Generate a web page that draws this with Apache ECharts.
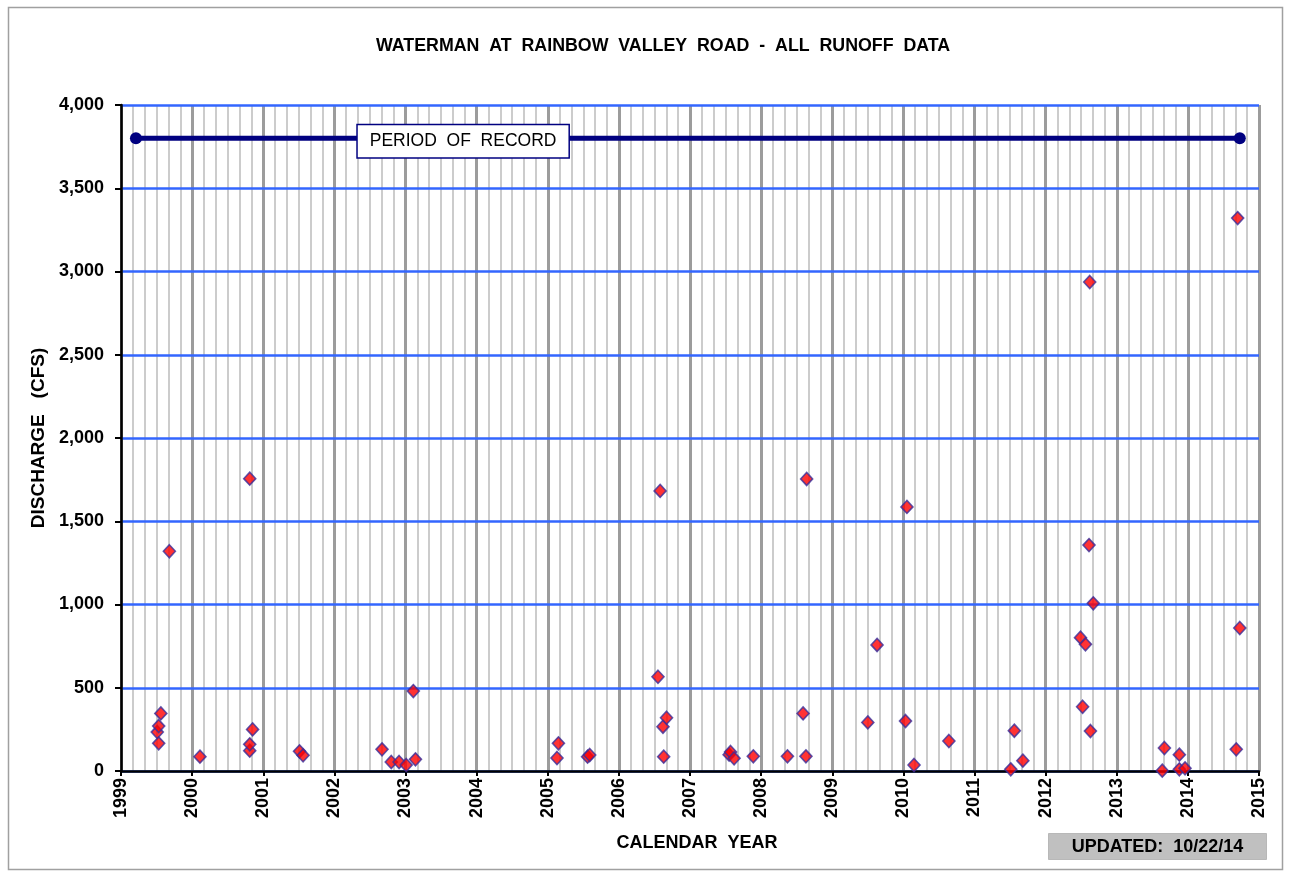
<!DOCTYPE html>
<html>
<head>
<meta charset="utf-8">
<script src="https://cdn.jsdelivr.net/npm/echarts@6/dist/echarts.min.js"></script>
<style>
html,body{margin:0;padding:0;background:#fff;}
#chart{width:1291px;height:877px;}
</style>
</head>
<body>
<div id="chart"></div>
<script>
// Decimal calendar year of each runoff event
var eventYears = [
  1999.51, 1999.53, 1999.53, 1999.56, 1999.68,
  2000.11, 2000.81, 2000.81, 2000.81, 2000.85,
  2001.51, 2001.56,
  2002.67, 2002.80, 2002.91, 2003.01, 2003.11, 2003.14,
  2005.13, 2005.15, 2005.56, 2005.59,
  2006.55, 2006.58, 2006.62, 2006.63, 2006.67,
  2007.55, 2007.57, 2007.62, 2007.89,
  2008.37, 2008.59, 2008.63, 2008.64,
  2009.50, 2009.63,
  2010.03, 2010.05, 2010.15, 2010.64,
  2011.51, 2011.56, 2011.68,
  2012.49, 2012.52, 2012.56, 2012.61, 2012.62, 2012.63, 2012.67,
  2013.64, 2013.67, 2013.88, 2013.88, 2013.96,
  2014.68, 2014.70, 2014.73
];
// Discharge (CFS) of each runoff event
var discharge = [
  234, 166, 270, 346, 1320,
  86, 122, 160, 1756, 250,
  118, 94,
  130, 54, 54, 36, 480, 70,
  78, 166, 86, 96,
  566, 1682, 266, 86, 320,
  98, 114, 76, 88,
  88, 346, 88, 1754,
  292, 757,
  300, 1586, 36, 180,
  10, 242, 62,
  801, 386, 761, 1357, 2937, 240, 1007,
  2, 138, 98, 10, 16,
  130, 3321, 859
];
// Period of record
var recordYears = [1999.21, 2014.73];
var recordLevel = 3800;
// Axis ticks
var yearMin = 1999, yearMax = 2015;
var minorPerYear = 6;   // minor gridlines every two months
var cfsMin = 0, cfsMax = 4000, cfsStep = 500;

var FONT = 'Liberation Sans';
var chart = echarts.init(document.getElementById('chart'), null, {renderer: 'canvas'});

var points = eventYears.map(function (y, i) { return [y, discharge[i]]; });
var recordLine = recordYears.map(function (y) { return [y, recordLevel]; });

var hiddenParts = {axisLine: {show: false}, axisTick: {show: false}, axisLabel: {show: false}};

chart.setOption({
  animation: false,
  backgroundColor: '#ffffff',
  title: {
    text: 'WATERMAN  AT  RAINBOW  VALLEY  ROAD  -  ALL  RUNOFF  DATA',
    left: 371,
    top: 32,
    textStyle: {fontFamily: FONT, fontWeight: 'bold', fontSize: 17.8, color: '#000'}
  },
  grid: {left: 121, right: 32, top: 105, bottom: 106, containLabel: false},
  xAxis: [
    {
      // main year axis: line, ticks, labels, name (drawn on top)
      type: 'value',
      min: yearMin, max: yearMax, interval: 1,
      z: 3,
      name: 'CALENDAR  YEAR',
      nameLocation: 'middle',
      nameGap: 63,
      nameTextStyle: {fontFamily: FONT, fontWeight: 'bold', fontSize: 18, color: '#000', verticalAlign: 'top', padding: [0, 0, 0, 14]},
      axisLine: {show: true, onZero: false, lineStyle: {color: '#000', width: 2.5}},
      axisTick: {show: true, inside: false, length: 5, lineStyle: {color: '#000', width: 2}},
      axisLabel: {
        rotate: 90, margin: 7,
        fontFamily: FONT, fontWeight: 'bold', fontSize: 18, color: '#000',
        formatter: function (v) { return String(v); }
      },
      splitLine: {show: false}
    },
    Object.assign({
      // yearly gridlines
      type: 'value', position: 'bottom',
      min: yearMin, max: yearMax, interval: 1,
      z: 1,
      splitLine: {show: true, lineStyle: {color: '#9c9c9c', width: 3}}
    }, hiddenParts),
    Object.assign({
      // two-month gridlines
      type: 'value', position: 'bottom',
      min: 0, max: (yearMax - yearMin) * minorPerYear, interval: 1,
      z: 0,
      splitLine: {show: true, lineStyle: {color: '#cccccc', width: 2}}
    }, hiddenParts)
  ],
  yAxis: {
    type: 'value',
    min: cfsMin, max: cfsMax, interval: cfsStep,
    z: 2,
    name: 'DISCHARGE   (CFS)',
    nameLocation: 'middle',
    nameGap: 71,
    nameRotate: 90,
    nameTextStyle: {fontFamily: FONT, fontWeight: 'bold', fontSize: 19, color: '#000'},
    axisLine: {show: true, lineStyle: {color: '#000', width: 2.5}},
    axisTick: {show: true, inside: false, length: 6, lineStyle: {color: '#000', width: 2}},
    axisLabel: {
      margin: 17,
      fontFamily: FONT, fontWeight: 'bold', fontSize: 18, color: '#000',
      formatter: function (v) { return v.toLocaleString('en-US'); }
    },
    splitLine: {show: true, lineStyle: {color: '#3366ff', width: 2.5}}
  },
  series: [
    {
      type: 'line',
      data: recordLine,
      symbol: 'circle',
      symbolSize: 12,
      showSymbol: true,
      lineStyle: {color: '#000080', width: 5},
      itemStyle: {color: '#000080'},
      z: 5,
      markPoint: {
        z: 12,
        symbol: 'rect',
        symbolSize: 0,
        data: [{coord: [2003.81, recordLevel], value: 'PERIOD  OF  RECORD'}],
        label: {
          show: true,
          formatter: 'PERIOD  OF  RECORD',
          fontFamily: FONT, fontSize: 17.5, color: '#000',
          backgroundColor: '#fff',
          borderColor: '#000080', borderWidth: 1.5,
          padding: [8, 12, 6, 12],
          position: 'inside',
          offset: [0, 3]
        }
      }
    },
    {
      type: 'scatter',
      data: points,
      symbol: 'diamond',
      symbolSize: [12, 13],
      itemStyle: {color: '#ff0000', borderColor: '#3a2e9a', borderWidth: 1.6},
      z: 6
    }
  ],
  graphic: [
    {
      type: 'rect',
      shape: {x: 8.5, y: 7.5, width: 1274, height: 862},
      style: {fill: null, stroke: '#a0a0a0', lineWidth: 1.5},
      silent: true, z: -10
    },
    {
      type: 'group',
      left: 1048, top: 833,
      children: [
        {type: 'rect', shape: {x: 0, y: 0, width: 218, height: 26}, style: {fill: '#c0c0c0', stroke: '#b8b8b8'}},
        {type: 'text', x: 109, y: 14, style: {text: 'UPDATED:  10/22/14', fill: '#000', fontFamily: FONT, fontWeight: 'bold', fontSize: 18, align: 'center', verticalAlign: 'middle'}}
      ]
    }
  ]
});
</script>
</body>
</html>
